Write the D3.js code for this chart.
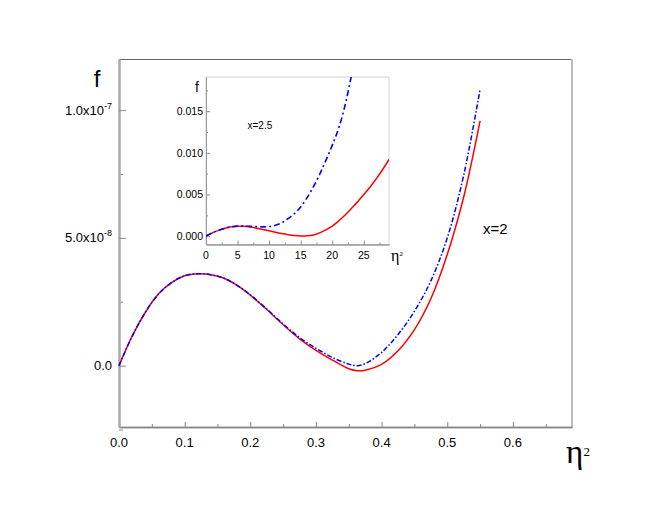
<!DOCTYPE html>
<html><head><meta charset="utf-8">
<script src="https://cdn.jsdelivr.net/npm/d3@7"></script>
<style>body{margin:0;background:#fff}svg{display:block}</style>
</head><body>
<script>
// ---------- main chart data (x = 2) ----------
const mainEta2 = [0, 0.02, 0.04, 0.06, 0.08, 0.10, 0.12, 0.14, 0.16, 0.18, 0.20, 0.225, 0.25, 0.275, 0.30, 0.325, 0.35, 0.363, 0.375, 0.40, 0.425, 0.45, 0.475, 0.50, 0.525, 0.55];
const mainRed  = [0, 1.15, 2.08, 2.80, 3.25, 3.52, 3.60, 3.56, 3.42, 3.14, 2.76, 2.20, 1.60, 1.05, 0.60, 0.22, -0.12, -0.20, -0.18, 0.05, 0.58, 1.41, 2.62, 4.35, 6.60, 9.58]; // x1e-8
const mainBlue = [0, 1.15, 2.08, 2.80, 3.25, 3.52, 3.60, 3.56, 3.42, 3.14, 2.77, 2.22, 1.63, 1.10, 0.68, 0.32, 0.06, 0.00, 0.08, 0.52, 1.22, 2.13, 3.32, 5.00, 7.45, 10.82]; // x1e-8
const mainXTicks = [0, 0.1, 0.2, 0.3, 0.4, 0.5, 0.6];
const mainXTickLabels = ["0.0", "0.1", "0.2", "0.3", "0.4", "0.5", "0.6"];
const mainXMinor = [0.05, 0.15, 0.25, 0.35, 0.45, 0.55, 0.65];
const mainYTicks = [0, 5e-8, 1e-7];
const mainYTickBase = ["0.0", "5.0x10", "1.0x10"];
const mainYTickExp = ["", "-8", "-7"];
const mainYMinor = [-2.5e-8, 2.5e-8, 7.5e-8];

// ---------- inset data (x = 2.5) ----------
const insetEta2 = [0, 1, 2, 3, 4, 5, 6, 7, 8, 9, 10, 11, 12, 13, 14, 15, 16, 17, 18, 19, 20, 21, 22, 23, 24, 25, 26, 27, 28, 29];
const insetRed  = [0, 0.0004, 0.0007, 0.00095, 0.00112, 0.0012, 0.00118, 0.0011, 0.00096, 0.0008, 0.00064, 0.00047, 0.00031, 0.00018, 0.00008, 0.00002, 0.00004, 0.00014, 0.0004, 0.00075, 0.0012, 0.0018, 0.0025, 0.0033, 0.0041, 0.0050, 0.0059, 0.0069, 0.0080, 0.0092];
const insetBlueEta2 = [0, 1, 2, 3, 4, 5, 6, 7, 8, 9, 10, 11, 12, 13, 14, 15, 16, 17, 18, 19, 20, 21, 22, 23, 23.3];
const insetBlue = [0, 0.0004, 0.0007, 0.00095, 0.00112, 0.0012, 0.0012, 0.00118, 0.00115, 0.00112, 0.00115, 0.0013, 0.0016, 0.0021, 0.0027, 0.0035, 0.0046, 0.0059, 0.0074, 0.0091, 0.0109, 0.0129, 0.0156, 0.0191, 0.0202];
const insetXTicks = [0, 5, 10, 15, 20, 25];
const insetXTickLabels = ["0", "5", "10", "15", "20", "25"];
const insetXMinor = [2.5, 7.5, 12.5, 17.5, 22.5, 27.5];
const insetYTicks = [0, 0.005, 0.010, 0.015];
const insetYTickLabels = ["0.000", "0.005", "0.010", "0.015"];
const insetYMinor = [0.0025, 0.0075, 0.0125, 0.0175];

const W = 664, H = 513;
const svg = d3.select("body").append("svg").attr("width", W).attr("height", H)
  .style("font-family", "'Liberation Sans', Arial, sans-serif");

// ---------- main scales ----------
const x = d3.scaleLinear().domain([0, 0.69]).range([119, 572]);
const y = d3.scaleLinear().domain([-2.4e-8, 1.2e-7]).range([427, 59]);

// frame
svg.append("line").attr("x1", 119).attr("x2", 572).attr("y1", 59.5).attr("y2", 59.5).attr("stroke", "#666").attr("stroke-width", 1);
svg.append("line").attr("x1", 572).attr("x2", 572).attr("y1", 59).attr("y2", 427).attr("stroke", "#bbb").attr("stroke-width", 2);

function styleAxis(g, color, width) {
  g.select(".domain").attr("stroke", color).attr("stroke-width", width);
  g.selectAll(".tick line").attr("stroke", "#888").attr("stroke-width", 1);
  g.selectAll(".tick text").remove();
}

// main x axis
svg.append("g").attr("transform", "translate(0,427)")
  .call(d3.axisBottom(x).tickValues(mainXMinor).tickSize(-3).tickSizeOuter(0).tickFormat(""))
  .call(g => styleAxis(g, "#888", 1.5));
svg.append("g").attr("transform", "translate(0,427)")
  .call(d3.axisBottom(x).tickValues(mainXTicks).tickSize(-5).tickSizeOuter(0).tickFormat(""))
  .call(g => styleAxis(g, "#888", 1.5));
svg.append("g").selectAll("text").data(mainXTicks).join("text")
  .attr("x", d => x(d)).attr("y", 447).attr("text-anchor", "middle")
  .attr("font-size", 13).attr("fill", "#000")
  .text((d, i) => mainXTickLabels[i]);

// main y axis
svg.append("g").attr("transform", "translate(119,0)")
  .call(d3.axisLeft(y).tickValues(mainYMinor).tickSize(-4).tickSizeOuter(0).tickFormat(""))
  .call(g => styleAxis(g, "#aaa", 2));
svg.append("g").attr("transform", "translate(119,0)")
  .call(d3.axisLeft(y).tickValues(mainYTicks).tickSize(-7).tickSizeOuter(0).tickFormat(""))
  .call(g => styleAxis(g, "#aaa", 2));
const yl = svg.append("g").selectAll("text").data(mainYTicks).join("text")
  .attr("x", 112).attr("y", d => y(d) + 4.5).attr("text-anchor", "end")
  .attr("font-size", 13).attr("fill", "#000");
yl.each(function (d, i) {
  const t = d3.select(this);
  t.append("tspan").text(mainYTickBase[i]);
  if (mainYTickExp[i]) t.append("tspan").attr("font-size", 9).attr("dy", -6).text(mainYTickExp[i]);
});

// main curves
const mainLine = d3.line().x(d => x(d[0])).y(d => y(d[1])).curve(d3.curveCatmullRom.alpha(0.5));
svg.append("path").datum(mainEta2.map((v, i) => [v, mainRed[i] * 1e-8]))
  .attr("d", mainLine).attr("fill", "none").attr("stroke", "#ff0000").attr("stroke-width", 1.5);
svg.append("path").datum(mainEta2.map((v, i) => [v, mainBlue[i] * 1e-8]))
  .attr("d", mainLine).attr("fill", "none").attr("stroke", "#0000ff").attr("stroke-width", 1.5)
  .attr("stroke-dasharray", "5,2,1.5,2");

// main labels
svg.append("text").attr("x", 97).attr("y", 87).attr("text-anchor", "middle")
  .attr("font-size", 24).text("f");
svg.append("text").attr("x", 566).attr("y", 463)
  .style("font-family", "'Liberation Serif', 'Times New Roman', serif").attr("font-size", 33).text("η");
svg.append("text").attr("x", 583.5).attr("y", 456)
  .style("font-family", "'Liberation Serif', 'Times New Roman', serif").attr("font-size", 13).text("2");
svg.append("text").attr("x", 483).attr("y", 234).attr("font-size", 15).text("x=2");

// ---------- inset ----------
const ix = d3.scaleLinear().domain([0, 29]).range([206, 389]);
const iy = d3.scaleLinear().domain([-0.001, 0.0191]).range([244.5, 77]);

svg.append("rect").attr("x", 206).attr("y", 77).attr("width", 183).attr("height", 167.5)
  .attr("fill", "#fff").attr("stroke", "#d4d4d4").attr("stroke-width", 1);

svg.append("g").attr("transform", "translate(0,244.5)")
  .call(d3.axisBottom(ix).tickValues(insetXMinor).tickSize(-2).tickSizeOuter(0).tickFormat(""))
  .call(g => styleAxis(g, "#999", 1));
svg.append("g").attr("transform", "translate(0,244.5)")
  .call(d3.axisBottom(ix).tickValues(insetXTicks).tickSize(-4).tickSizeOuter(0).tickFormat(""))
  .call(g => styleAxis(g, "#999", 1));
svg.append("g").selectAll("text").data(insetXTicks).join("text")
  .attr("x", d => ix(d)).attr("y", 259).attr("text-anchor", "middle")
  .attr("font-size", 10.5).text((d, i) => insetXTickLabels[i]);

svg.append("g").attr("transform", "translate(206,0)")
  .call(d3.axisLeft(iy).tickValues(insetYMinor).tickSize(-2).tickSizeOuter(0).tickFormat(""))
  .call(g => styleAxis(g, "#999", 1));
svg.append("g").attr("transform", "translate(206,0)")
  .call(d3.axisLeft(iy).tickValues(insetYTicks).tickSize(-4).tickSizeOuter(0).tickFormat(""))
  .call(g => styleAxis(g, "#999", 1));
svg.append("g").selectAll("text").data(insetYTicks).join("text")
  .attr("x", 203).attr("y", d => iy(d) + 3.7).attr("text-anchor", "end")
  .attr("font-size", 10.5).text((d, i) => insetYTickLabels[i]);

svg.append("clipPath").attr("id", "iclip").append("rect")
  .attr("x", 206).attr("y", 77).attr("width", 183).attr("height", 167.5);
const iLine = d3.line().x(d => ix(d[0])).y(d => iy(d[1])).curve(d3.curveCatmullRom.alpha(0.5));
const ig = svg.append("g").attr("clip-path", "url(#iclip)");
ig.append("path").datum(insetEta2.map((v, i) => [v, insetRed[i]]))
  .attr("d", iLine).attr("fill", "none").attr("stroke", "#ff0000").attr("stroke-width", 1.5);
ig.append("path").datum(insetBlueEta2.map((v, i) => [v, insetBlue[i]]))
  .attr("d", iLine).attr("fill", "none").attr("stroke", "#0000ff").attr("stroke-width", 1.6)
  .attr("stroke-dasharray", "6,3,2,3");

svg.append("text").attr("x", 197).attr("y", 92).attr("text-anchor", "middle")
  .attr("font-size", 14).text("f");
svg.append("text").attr("x", 247.5).attr("y", 128.5).attr("font-size", 10).text("x=2.5");
svg.append("text").attr("x", 391).attr("y", 261)
  .style("font-family", "'Liberation Serif', 'Times New Roman', serif").attr("font-size", 16).text("η");
svg.append("text").attr("x", 399.5).attr("y", 256)
  .style("font-family", "'Liberation Serif', 'Times New Roman', serif").attr("font-size", 7).text("2");
</script>
</body></html>
